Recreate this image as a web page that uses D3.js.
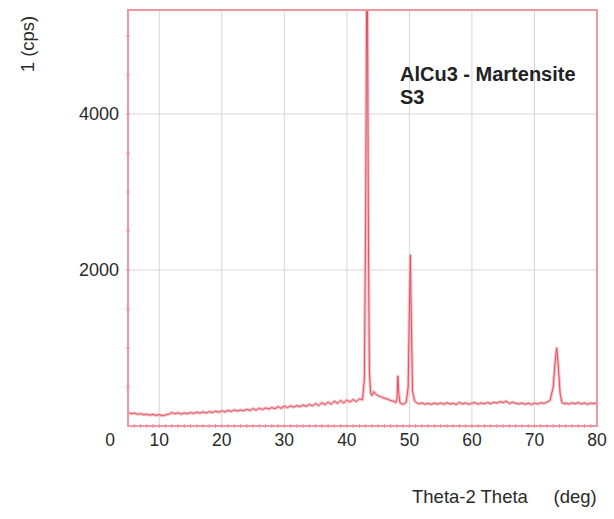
<!DOCTYPE html>
<html>
<head>
<meta charset="utf-8">
<script src="https://cdn.jsdelivr.net/npm/d3@7"></script>
<style>
  html, body { margin: 0; padding: 0; background: #fff; }
  svg text { font-family: "Liberation Sans", Arial, sans-serif; fill: #2a2a2a; }
</style>
</head>
<body>
<svg id="chart" width="614" height="519"></svg>
<script>
// Diffraction scan: 2θ positions (deg) and intensity (cps)
const twoTheta = [
  5.0, 5.5, 6.0, 6.5, 7.0, 7.5, 8.0, 8.5, 9.0, 9.5, 10.0, 10.5, 11.0, 11.5, 12.0, 12.5,
  13.0, 13.5, 14.0, 14.5, 15.0, 15.5, 16.0, 16.5, 17.0, 17.5, 18.0, 18.5, 19.0, 19.5,
  20.0, 20.5, 21.0, 21.5, 22.0, 22.5, 23.0, 23.5, 24.0, 24.5, 25.0, 25.5, 26.0, 26.5,
  27.0, 27.5, 28.0, 28.5, 29.0, 29.5, 30.0, 30.5, 31.0, 31.5, 32.0, 32.5, 33.0, 33.5,
  34.0, 34.5, 35.0, 35.5, 36.0, 36.5, 37.0, 37.5, 38.0, 38.5, 39.0, 39.5, 40.0, 40.5,
  41.0, 41.5, 42.0, 42.5, 42.8, 43.0, 43.15, 43.3, 43.45, 43.6, 43.8, 44.0, 44.3, 44.6,
  45.0, 45.5, 46.0, 46.5, 47.0, 47.5, 47.8, 48.0, 48.15, 48.3, 48.5, 49.0, 49.5, 49.8,
  50.0, 50.15, 50.3, 50.5, 50.8, 51.0, 51.5, 52.0, 52.5, 53.0, 53.5, 54.0, 54.5, 55.0,
  55.5, 56.0, 56.5, 57.0, 57.5, 58.0, 58.5, 59.0, 59.5, 60.0, 60.5, 61.0, 61.5, 62.0,
  62.5, 63.0, 63.5, 64.0, 64.5, 65.0, 65.5, 66.0, 66.5, 67.0, 67.5, 68.0, 68.5, 69.0,
  69.5, 70.0, 70.5, 71.0, 71.5, 72.0, 72.5, 73.0, 73.3, 73.55, 73.8, 74.1, 74.4, 74.8,
  75.0, 75.5, 76.0, 76.5, 77.0, 77.5, 78.0, 78.5, 79.0, 79.5, 80.0
];
const intensity = [
  175, 158, 166, 150, 158, 144, 152, 138, 150, 134, 146, 132, 142, 150, 172, 156,
  170, 152, 168, 158, 172, 160, 178, 164, 182, 166, 184, 172, 190, 176,
  196, 180, 200, 186, 206, 192, 204, 196, 214, 200, 222, 204, 228, 210,
  232, 218, 236, 222, 248, 226, 256, 234, 258, 242, 262, 246, 270, 252,
  276, 258, 288, 262, 298, 274, 306, 280, 318, 290, 326, 296, 334, 306,
  340, 312, 348, 336, 600, 2600, 5330, 5330, 2400, 700, 420, 392, 440, 408,
  388, 372, 356, 346, 326, 318, 300, 340, 640, 420, 296, 276, 306, 500,
  1500, 2190, 1400, 450, 330, 306, 284, 296, 278, 292, 276, 294, 280, 296,
  278, 300, 282, 290, 276, 302, 282, 296, 278, 292, 300, 280, 296, 284,
  300, 286, 304, 294, 312, 300, 318, 288, 306, 292, 282, 296, 278, 292,
  276, 294, 282, 298, 290, 306, 330, 500, 820, 1000, 780, 420, 300, 284,
  296, 280, 298, 284, 300, 282, 296, 278, 294, 286, 300
];

const xTicks = [10, 20, 30, 40, 50, 60, 70, 80];
const yTicks = [2000, 4000];
const title = ["AlCu3 - Martensite", "S3"];
const xTitle = "Theta-2 Theta     (deg)";
const yTitle = "1 (cps)";

const svg = d3.select("#chart");
const plotLeft = 128, plotRight = 597, plotTop = 10, plotBottom = 426;

const x = d3.scaleLinear().domain([5, 80]).range([plotLeft, plotRight]);
const y = d3.scaleLinear().domain([0, 5333]).range([plotBottom, plotTop]);

// grid
svg.append("g")
  .selectAll("line").data(xTicks.filter(d => d < 80)).join("line")
  .attr("x1", d => x(d)).attr("x2", d => x(d))
  .attr("y1", plotTop).attr("y2", plotBottom)
  .attr("stroke", "#d6d6d6").attr("stroke-width", 1);
svg.append("g")
  .selectAll("line").data(yTicks).join("line")
  .attr("x1", plotLeft).attr("x2", plotRight)
  .attr("y1", d => y(d)).attr("y2", d => y(d))
  .attr("stroke", "#d6d6d6").attr("stroke-width", 1);

// minor ticks on the frame
svg.append("g")
  .selectAll("line").data(d3.range(6, 80, 1)).join("line")
  .attr("x1", d => x(d)).attr("x2", d => x(d))
  .attr("y1", plotBottom - 2).attr("y2", plotBottom + 2)
  .attr("stroke", "#e88a94").attr("stroke-width", 1);
svg.append("g")
  .selectAll("line").data(d3.range(500, 5333, 500)).join("line")
  .attr("x1", plotLeft - 2).attr("x2", plotLeft + 2)
  .attr("y1", d => y(d)).attr("y2", d => y(d))
  .attr("stroke", "#e88a94").attr("stroke-width", 1);

// scan trace
const pts = twoTheta.map((t, i) => [t, intensity[i]]);
const line = d3.line().x(d => x(d[0])).y(d => y(d[1]));
svg.append("path").datum(pts)
  .attr("d", line).attr("fill", "none")
  .attr("stroke", "#f6c2c7").attr("stroke-width", 3.2).attr("stroke-linejoin", "round");
svg.append("path").datum(pts)
  .attr("d", line).attr("fill", "none")
  .attr("stroke", "#e2505e").attr("stroke-width", 1).attr("stroke-linejoin", "round");

// frame
svg.append("rect")
  .attr("x", plotLeft).attr("y", plotTop)
  .attr("width", plotRight - plotLeft).attr("height", plotBottom - plotTop)
  .attr("fill", "none").attr("stroke", "#ee97a0").attr("stroke-width", 2);

// tick labels
svg.append("g")
  .selectAll("text").data(xTicks).join("text")
  .attr("x", d => x(d)).attr("y", 446)
  .attr("text-anchor", "middle").attr("font-size", 17.5)
  .text(d => d);
svg.append("g")
  .selectAll("text").data(yTicks).join("text")
  .attr("x", 119).attr("y", d => y(d) + 6)
  .attr("text-anchor", "end").attr("font-size", 18)
  .text(d => d);
svg.append("text")
  .attr("x", 110).attr("y", 446)
  .attr("text-anchor", "middle").attr("font-size", 17.5)
  .text(0);

// axis titles
svg.append("text")
  .attr("x", 412).attr("y", 503)
  .attr("font-size", 18.5)
  .style("white-space", "pre")
  .text(xTitle);
svg.append("text")
  .attr("transform", "translate(34,44) rotate(-90)")
  .attr("text-anchor", "middle").attr("font-size", 18.5)
  .style("white-space", "pre")
  .text(yTitle);

// sample annotation
svg.append("g")
  .selectAll("text").data(title).join("text")
  .attr("x", 400).attr("y", (d, i) => 81 + i * 23)
  .attr("font-size", 20).attr("font-weight", "bold").style("fill", "#222")
  .text(d => d);
</script>
</body>
</html>
